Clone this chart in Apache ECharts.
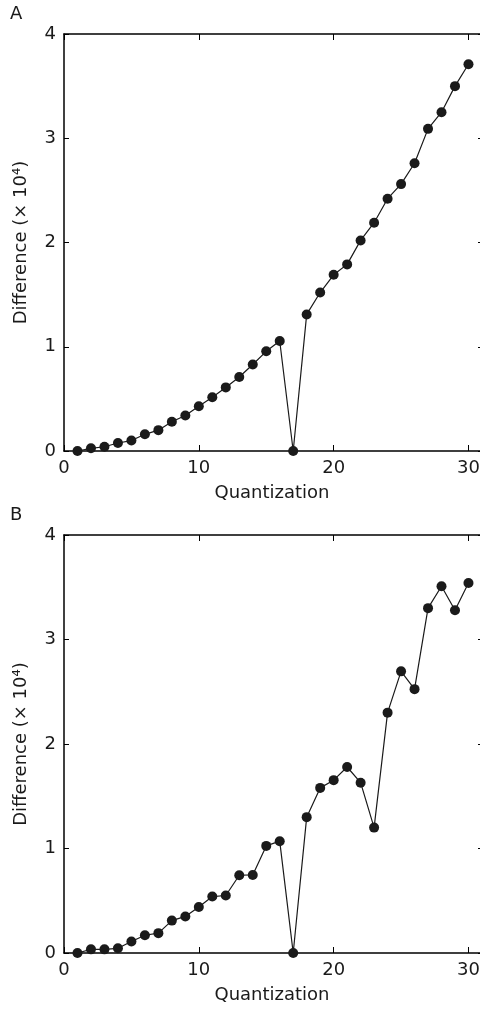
<!DOCTYPE html>
<html>
<head>
<meta charset="utf-8">
<script src="https://cdn.jsdelivr.net/npm/echarts@6/dist/echarts.min.js"></script>
<style>
html,body{margin:0;padding:0;background:#fff;overflow:hidden;}
#chart{width:480px;height:1013px;}
</style>
</head>
<body>
<div id="chart"></div>
<script>
// Data
const quantization = [1,2,3,4,5,6,7,8,9,10,11,12,13,14,15,16,17,18,19,20,21,22,23,24,25,26,27,28,29,30];
const diffA = [0,0.026,0.041,0.077,0.10,0.16,0.20,0.28,0.34,0.43,0.515,0.61,0.71,0.83,0.956,1.055,0,1.31,1.52,1.69,1.79,2.02,2.19,2.42,2.56,2.76,3.09,3.25,3.50,3.71];
const diffB = [0,0.035,0.035,0.045,0.11,0.17,0.19,0.31,0.35,0.44,0.54,0.55,0.744,0.747,1.025,1.07,0,1.30,1.58,1.654,1.78,1.63,1.20,2.30,2.695,2.525,3.30,3.51,3.28,3.54];
const panelLabels = ['A','B'];
const xName = 'Quantization';
const yName = 'Difference (\u00D7 10\u2074)';

const FONT = 'DejaVu Sans';
const chart = echarts.init(document.getElementById('chart'));

const grids = [
  {left:64, top:34, width:422, height:417, outerBoundsMode:'none', containLabel:false},
  {left:64, top:535, width:422, height:418, outerBoundsMode:'none', containLabel:false}
];

const xAxes = [], yAxes = [], series = [];
[diffA, diffB].forEach((vals, i) => {
  xAxes.push({
    type:'value', gridIndex:i, min:0, max:31.3, interval:10, position:'bottom',
    name:xName, nameLocation:'middle', nameGap:33,
    nameTextStyle:{fontFamily:FONT, fontSize:18, color:'#1a1a1a', padding:[0,6,0,0]},
    axisLine:{show:true, onZero:false, lineStyle:{color:'#000', width:1.5}},
    axisTick:{show:true, inside:true, length:6, lineStyle:{color:'#000', width:1}},
    axisLabel:{fontFamily:FONT, fontSize:18, color:'#1a1a1a', margin:8, showMaxLabel:false},
    splitLine:{show:false}
  });
  xAxes.push({
    type:'value', gridIndex:i, min:0, max:31.3, interval:10, position:'top',
    axisLine:{show:true, onZero:false, lineStyle:{color:'#000', width:1.5}},
    axisTick:{show:true, inside:true, length:6, lineStyle:{color:'#000', width:1}},
    axisLabel:{show:false}, splitLine:{show:false}
  });
  yAxes.push({
    type:'value', gridIndex:i, min:0, max:4, interval:1, position:'left',
    name:yName, nameLocation:'middle', nameGap:34, nameRotate:90,
    nameTextStyle:{fontFamily:FONT, fontSize:18, color:'#1a1a1a'},
    axisLine:{show:true, onZero:false, lineStyle:{color:'#000', width:1.5}},
    axisTick:{show:true, inside:true, length:5, lineStyle:{color:'#000', width:1}},
    axisLabel:{fontFamily:FONT, fontSize:18, color:'#1a1a1a', margin:8},
    splitLine:{show:false}
  });
  yAxes.push({
    type:'value', gridIndex:i, min:0, max:4, interval:1, position:'right',
    axisLine:{show:true, onZero:false, lineStyle:{color:'#000', width:1.5}},
    axisTick:{show:true, inside:true, length:8, lineStyle:{color:'#000', width:1}},
    axisLabel:{show:false}, splitLine:{show:false}
  });
  series.push({
    type:'line', xAxisIndex:i*2, yAxisIndex:i*2,
    data: quantization.map((q, k) => [q, vals[k]]),
    symbol:'circle', symbolSize:10,
    itemStyle:{color:'#1a1a1a'},
    lineStyle:{color:'#1a1a1a', width:1.2},
    animation:false, z:3
  });
});

chart.setOption({
  backgroundColor:'#fff',
  animation:false,
  grid: grids,
  xAxis: xAxes,
  yAxis: yAxes,
  series: series,
  graphic: [
    {type:'text', left:10, top:5, style:{text:panelLabels[0], font:'18px "DejaVu Sans"', fill:'#1a1a1a'}},
    {type:'text', left:10, top:506, style:{text:panelLabels[1], font:'18px "DejaVu Sans"', fill:'#1a1a1a'}}
  ]
});
</script>
</body>
</html>
